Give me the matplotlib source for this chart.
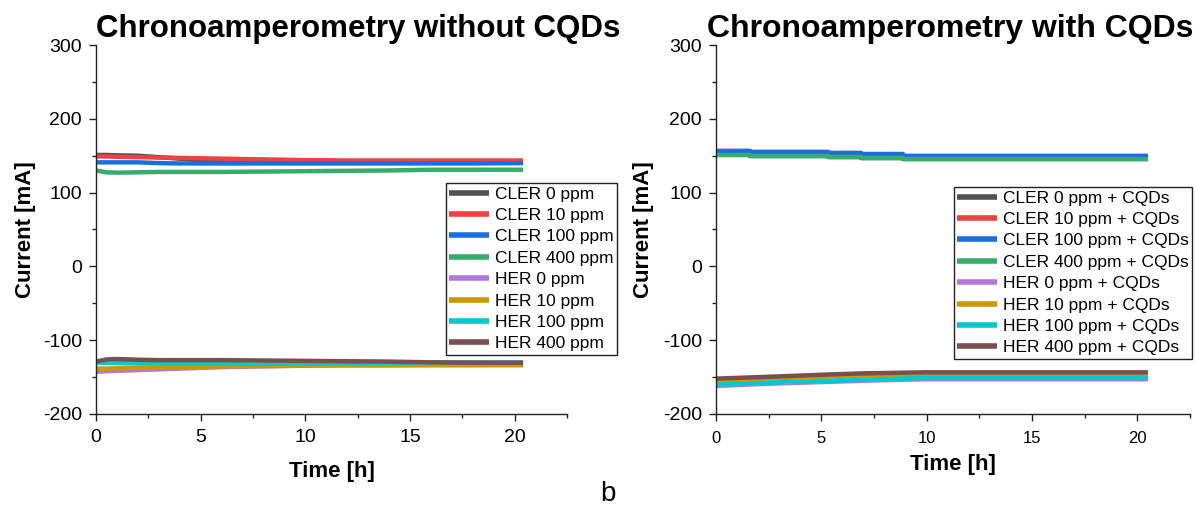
import numpy as np
import matplotlib
matplotlib.use("Agg")
import matplotlib.pyplot as plt
from matplotlib.ticker import MultipleLocator

plt.rcParams['font.family'] = ['Liberation Sans', 'DejaVu Sans']
plt.rcParams['axes.unicode_minus'] = False

# ---- data ----
t_left = [0, 0.5, 1, 2, 3, 4, 5, 6, 8, 10, 12, 14, 16, 18, 20.4]
cler_0 = [151, 151, 150.5, 150, 148, 146, 144, 142.5, 141, 141, 141, 141, 141, 141, 141]
cler_10 = [149, 149, 148.5, 148, 147.5, 147, 146.5, 146, 145, 144, 143.5, 143.5, 143.5, 143.5, 143.5]
cler_100 = [141, 141, 141, 141, 140, 139.5, 139.5, 139.5, 139.5, 139.5, 139.5, 139.5, 139.5, 139.5, 140]
cler_400 = [130, 127.5, 127, 127.5, 128, 128, 128, 128, 128.5, 129, 129.5, 130, 131, 131, 131]
her_0 = [-143, -142, -141.5, -140.5, -139.5, -138.5, -137.5, -136.5, -135.5, -134.5, -134, -134, -133.5, -133.5, -133]
her_10 = [-138.5, -138.5, -138, -137.5, -137, -136.5, -136, -135.5, -135, -134.5, -134, -134, -134, -134, -134]
her_100 = [-131, -130.5, -131, -131.5, -132, -132, -132, -132, -132, -131.5, -131, -130.5, -130, -130, -130]
her_400 = [-129, -126, -125.5, -126.5, -127, -127, -127, -127, -127.5, -128, -128.5, -129, -130, -130.5, -130.5]

t_right = [0, 1.6, 3, 5.3, 6.9, 8.9, 10, 12, 14, 16, 18, 20.5]
cqd_cler_0 = [152, 149.5, 149.5, 148.5, 147, 145.5, 145.5, 145.5, 145.5, 145.5, 145.5, 145.5]
cqd_cler_10 = [156.5, 154.5, 154.5, 153, 151.5, 149.5, 149.5, 149.5, 149.5, 149.5, 149.5, 149.5]
cqd_cler_100 = [157, 155, 155, 153.5, 152, 150, 150, 150, 150, 150, 150, 150]
cqd_cler_400 = [151.5, 149, 149, 148, 146.5, 145, 145, 145, 145, 145, 145, 145]
cqd_her_0 = [-162, -160, -158.5, -156.5, -155, -153.5, -153, -153, -153, -153, -153, -153]
cqd_her_10 = [-155, -153, -151.5, -149.5, -148, -147, -146.5, -146, -146, -146, -146, -146]
cqd_her_100 = [-160.5, -158.5, -157, -155, -153.5, -152, -151, -151, -151, -151, -151, -151]
cqd_her_400 = [-152, -150.5, -149, -146.5, -145, -144, -143.5, -143.5, -143.5, -143.5, -143.5, -143.5]

labels_left = ['CLER 0 ppm', 'CLER 10 ppm', 'CLER 100 ppm', 'CLER 400 ppm',
               'HER 0 ppm', 'HER 10 ppm', 'HER 100 ppm', 'HER 400 ppm']
labels_right = [s + ' + CQDs' for s in labels_left]
colors = ['#515151', '#F14040', '#1A6FDF', '#37AD6B', '#B177DE', '#CC9900', '#00CBCC', '#7D4E4E']

series_left = [cler_0, cler_10, cler_100, cler_400, her_0, her_10, her_100, her_400]
series_right = [cqd_cler_0, cqd_cler_10, cqd_cler_100, cqd_cler_400,
                cqd_her_0, cqd_her_10, cqd_her_100, cqd_her_400]

W, H = 1196, 508
fig = plt.figure(figsize=(W / 100, H / 100), dpi=100)
ax1 = fig.add_axes([96 / W, 1 - 414 / H, 471 / W, 369 / H])
ax2 = fig.add_axes([716 / W, 1 - 414 / H, 474 / W, 369 / H])


def style_axis(ax, xfs, xpad):
    ax.set_xlim(0, 22.5)
    ax.set_ylim(-200, 300)
    ax.xaxis.set_major_locator(MultipleLocator(5))
    ax.xaxis.set_minor_locator(MultipleLocator(2.5))
    ax.yaxis.set_major_locator(MultipleLocator(100))
    ax.yaxis.set_minor_locator(MultipleLocator(50))
    ax.spines['top'].set_visible(False)
    ax.spines['right'].set_visible(False)
    for s in ['left', 'bottom']:
        ax.spines[s].set_linewidth(1.0)
        ax.spines[s].set_color('#222222')
    ax.tick_params(which='major', direction='out', length=5, width=1, color='#222222')
    ax.tick_params(which='minor', direction='out', length=3, width=1, color='#222222')
    ax.tick_params(axis='y', labelsize=14, pad=5)
    ax.tick_params(axis='x', labelsize=xfs, pad=xpad)


for ax, t, series, labels in [(ax1, t_left, series_left, labels_left),
                               (ax2, t_right, series_right, labels_right)]:
    for i, (y, lab, c) in enumerate(zip(series, labels, colors)):
        ds = 'steps-post' if (ax is ax2 and i < 4) else 'default'
        ax.plot(t, y, color=c, lw=3.2, label=lab, drawstyle=ds, solid_capstyle='butt')

style_axis(ax1, 14, 6)
style_axis(ax2, 12, 7)

for ax, lx, ly in [(ax1, -0.149, -0.157), (ax2, -0.152, -0.138)]:
    ax.set_ylabel('Current [mA]', fontsize=16, fontweight='bold')
    ax.set_xlabel('Time [h]', fontsize=16, fontweight='bold')
    ax.yaxis.set_label_coords(lx, 0.5)
    ax.yaxis.label.set_va('center')
    ax.xaxis.set_label_coords(0.5, ly)
    ax.xaxis.label.set_va('center')

leg_kw = dict(loc='upper left', fontsize=12.5, frameon=True, fancybox=False,
              edgecolor='#222222', framealpha=1, borderaxespad=0, borderpad=0.2,
              labelspacing=0.36, handlelength=2.3, handletextpad=0.3)
l1 = ax1.legend(bbox_to_anchor=(446 / W, 1 - 183 / H), bbox_transform=fig.transFigure, **leg_kw)
l2 = ax2.legend(bbox_to_anchor=(954 / W, 1 - 187 / H), bbox_transform=fig.transFigure, **leg_kw)
for leg in (l1, l2):
    leg.get_frame().set_linewidth(1.0)
    for h in leg.get_lines():
        h.set_linewidth(4)

fig.text(96 / W, 1 - 37.5 / H, 'Chronoamperometry without CQDs', fontsize=22.5,
         fontweight='bold', ha='left', va='baseline')
fig.text(950 / W, 1 - 36.5 / H, 'Chronoamperometry with CQDs', fontsize=23,
         fontweight='bold', ha='center', va='baseline')
fig.text(608 / W, 1 - 494 / H, 'b', fontsize=20, ha='center', va='center')

fig.savefig('out.png', dpi=100)
